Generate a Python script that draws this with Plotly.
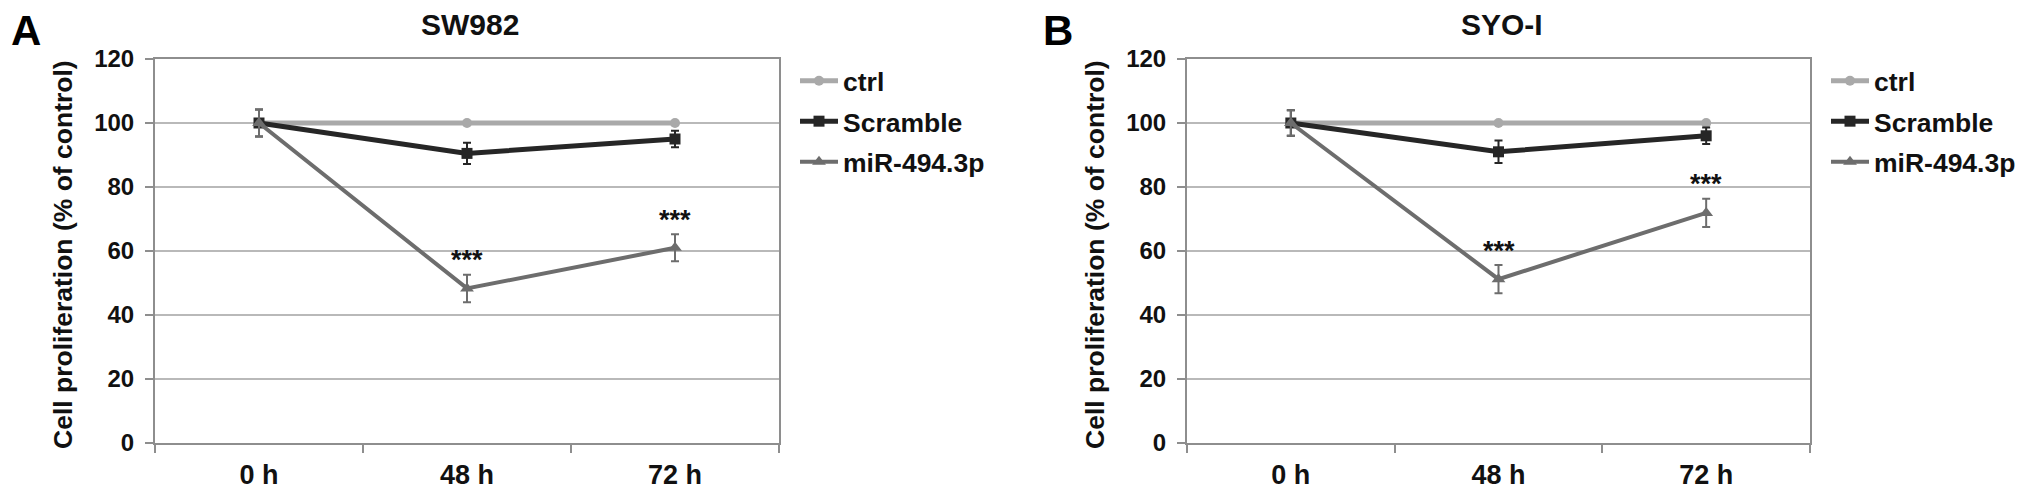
import plotly.graph_objects as go

W, H = 2031, 493
OFF = 8  # the page body adds an 8px margin around the figure

# ---------------- data ----------------
categories = ["0 h", "48 h", "72 h"]
series_names = ["ctrl", "Scramble", "miR-494.3p"]

a_ctrl = [100, 100, 100]
a_scramble = [100, 90.5, 95.0]
a_mir = [100, 48.3, 61.0]
a_ctrl_err = [0, 0, 0]
a_scramble_err = [4.2, 3.3, 2.6]
a_mir_err = [4.2, 4.3, 4.2]

b_ctrl = [100, 100, 100]
b_scramble = [100, 91.0, 96.0]
b_mir = [100, 51.2, 71.9]
b_ctrl_err = [0, 0, 0]
b_scramble_err = [4.0, 3.5, 2.6]
b_mir_err = [4.0, 4.4, 4.4]

sig_labels = ["", "***", "***"]   # significance of miR-494.3p vs ctrl
panel_titles = ["SW982", "SYO-I"]
panel_letters = ["A", "B"]
y_title = "Cell proliferation (% of control)"
y_ticks = [0, 20, 40, 60, 80, 100, 120]

# ---------------- style ----------------
FONT = "Liberation Sans, Arial, sans-serif"
C_CTRL = "#a9a9a9"
C_SCR = "#262626"
C_MIR = "#6d6d6d"
C_AXIS = "#8e8e8e"
C_GRID = "#b9b9b9"


def px_x(p):
    return (p - OFF) / W


def px_y(p):
    return (H - (p - OFF)) / H


panels = [
    dict(xa="x", ya="y", legend="legend", data=(a_ctrl, a_scramble, a_mir),
         err=(a_ctrl_err, a_scramble_err, a_mir_err), dom=(155, 779)),
    dict(xa="x2", ya="y2", legend="legend2", data=(b_ctrl, b_scramble, b_mir),
         err=(b_ctrl_err, b_scramble_err, b_mir_err), dom=(1187, 1810)),
]

styles = [
    dict(color=C_CTRL, width=5, symbol="circle", size=10),
    dict(color=C_SCR, width=5, symbol="square", size=11),
    dict(color=C_MIR, width=4, symbol="triangle-up", size=12),
]

fig = go.Figure()
for pi, p in enumerate(panels):
    for si in range(3):
        st = styles[si]
        fig.add_trace(go.Scatter(
            x=categories, y=p["data"][si], name=series_names[si],
            mode="lines+markers",
            line=dict(color=st["color"], width=st["width"]),
            marker=dict(symbol=st["symbol"], size=st["size"], color=st["color"]),
            error_y=dict(type="data", array=p["err"][si], visible=True,
                         color=st["color"], thickness=2, width=4),
            xaxis=p["xa"], yaxis=p["ya"], legend=p["legend"],
            legendgroup=f"{p['legend']}_{si}",
        ))

annotations = []
for pi, p in enumerate(panels):
    mir = p["data"][2]
    mir_err = p["err"][2]
    for i, lab in enumerate(sig_labels):
        if lab:
            annotations.append(dict(
                x=categories[i], y=mir[i] + mir_err[i] + 4.5,
                xref=p["xa"], yref=p["ya"], text=lab, showarrow=False,
                font=dict(family=FONT, size=27, color="#111", weight="bold"),
                xanchor="center", yanchor="middle"))
    cx = (p["dom"][0] + p["dom"][1]) / 2
    annotations.append(dict(
        x=px_x(cx + 3), y=px_y(25), xref="paper", yref="paper",
        text=panel_titles[pi], showarrow=False,
        font=dict(family=FONT, size=30, color="#111", weight="bold"),
        xanchor="center", yanchor="middle"))
    annotations.append(dict(
        x=px_x(p["dom"][0] - 146), y=px_y(5), xref="paper", yref="paper",
        text=panel_letters[pi], showarrow=False,
        font=dict(family=FONT, size=42, color="#000", weight="bold"),
        xanchor="left", yanchor="top"))
    annotations.append(dict(
        x=px_x(p["dom"][0] - 92), y=px_y(255), xref="paper", yref="paper",
        text=y_title, textangle=-90, showarrow=False,
        font=dict(family=FONT, size=26.5, color="#111", weight="bold"),
        xanchor="center", yanchor="middle"))

layout = dict(
    width=W, height=H, autosize=False,
    margin=dict(l=0, r=0, t=0, b=0, pad=0, autoexpand=False),
    paper_bgcolor="white", plot_bgcolor="white",
    annotations=annotations,
)

ydom = [px_y(443), px_y(59)]
for pi, p in enumerate(panels):
    sfx = "" if pi == 0 else "2"
    layout["xaxis" + sfx] = dict(
        domain=[px_x(p["dom"][0]), px_x(p["dom"][1])],
        anchor="y" + sfx, type="category", range=[-0.5, 2.5],
        tickson="boundaries", ticks="outside", ticklen=8, tickwidth=2,
        tickcolor=C_AXIS, showline=True, linecolor=C_AXIS, linewidth=2,
        mirror=True, showgrid=False, zeroline=False, automargin=False,
        tickfont=dict(family=FONT, size=27, color="#111", weight="bold"),
        ticklabelstandoff=7,
    )
    layout["yaxis" + sfx] = dict(
        domain=ydom, anchor="x" + sfx, range=[0, 120],
        tickvals=y_ticks, ticks="outside", ticklen=8, tickwidth=2,
        tickcolor=C_AXIS, showline=True, linecolor=C_AXIS, linewidth=2,
        mirror=True, showgrid=True, gridcolor=C_GRID, gridwidth=2,
        zeroline=False, automargin=False,
        tickfont=dict(family=FONT, size=24, color="#111", weight="bold"),
        ticklabelstandoff=6,
    )
    layout["legend" + sfx] = dict(
        x=px_x(p["dom"][1] + 16), y=px_y(57), xref="paper", yref="paper",
        xanchor="left", yanchor="top", bgcolor="rgba(0,0,0,0)",
        font=dict(family=FONT, size=26.5, color="#111", weight="bold"),
        tracegroupgap=3, itemwidth=38,
    )

fig.update_layout(**layout)
fig.write_html("out.html")
